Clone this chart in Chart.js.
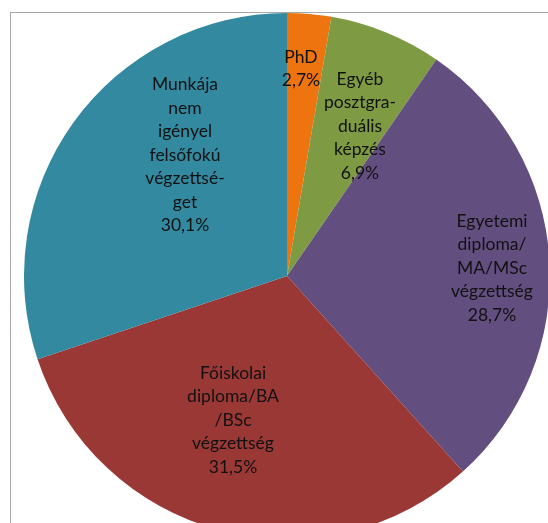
<!DOCTYPE html>
<html lang="hu">
<head>
  <meta charset="UTF-8" />
  <title>Végzettség megoszlása</title>
  <script src="https://cdn.jsdelivr.net/npm/chart.js"></script>
  <style>
    html, body {
      margin: 0;
      padding: 0;
      width: 548px;
      height: 523px;
      overflow: hidden;
      background: #fff;
    }
    .frame {
      position: absolute;
      left: 10px;
      top: 12px;
      width: 560px;
      height: 560px;
      border-top: 1px solid #a6a6a6;
      border-left: 1px solid #a6a6a6;
    }
    #pie {
      position: absolute;
      left: 24px;
      top: 13px;
    }
  </style>
</head>
<body>
  <div class="frame"></div>
  <canvas id="pie" width="526" height="526"></canvas>

  <script>
    // Slice categories, clockwise from 12 o'clock
    const categories = [
      ['PhD'],
      ['Egyéb', 'posztgra-', 'duális', 'képzés'],
      ['Egyetemi', 'diploma/', 'MA/MSc', 'végzettség'],
      ['Főiskolai', 'diploma/BA', '/BSc', 'végzettség'],
      ['Munkája', 'nem', 'igényel', 'felsőfokú', 'végzettsé-', 'get']
    ];
    const shares = [2.7, 6.9, 28.7, 31.5, 30.1];
    const sliceColors = ['#ee7410', '#7e9b43', '#634e80', '#9a3836', '#338aa0'];

    // where each label block sits, relative to the pie centre
    const labelOffsets = [[14, -207], [73, -150], [205, -8], [-54, 144], [-102, -121]];
    const lineHeight = 23.5;

    const sliceLabels = {
      id: 'sliceLabels',
      afterDatasetsDraw(chart) {
        const arcs = chart.getDatasetMeta(0).data;
        if (!arcs.length) return;
        const cx = arcs[0].x, cy = arcs[0].y;
        const c = chart.ctx;
        c.save();
        c.font = '17.5px Lato, sans-serif';
        c.fillStyle = '#111';
        c.textAlign = 'center';
        c.textBaseline = 'middle';
        categories.forEach((lines, i) => {
          const all = lines.concat([shares[i].toFixed(1).replace('.', ',') + '%']);
          const top = cy + labelOffsets[i][1] - (all.length - 1) * lineHeight / 2;
          all.forEach((t, j) => {
            c.fillText(t, cx + labelOffsets[i][0], top + j * lineHeight);
          });
        });
        c.restore();
      }
    };

    new Chart(document.getElementById('pie'), {
      type: 'pie',
      data: {
        labels: categories.map(l => l.join(' ')),
        datasets: [{
          data: shares,
          backgroundColor: sliceColors,
          borderWidth: 0
        }]
      },
      options: {
        responsive: false,
        animation: false,
        layout: { padding: 0 },
        plugins: {
          legend: { display: false },
          tooltip: { enabled: false }
        }
      },
      plugins: [sliceLabels]
    });
  </script>
</body>
</html>
